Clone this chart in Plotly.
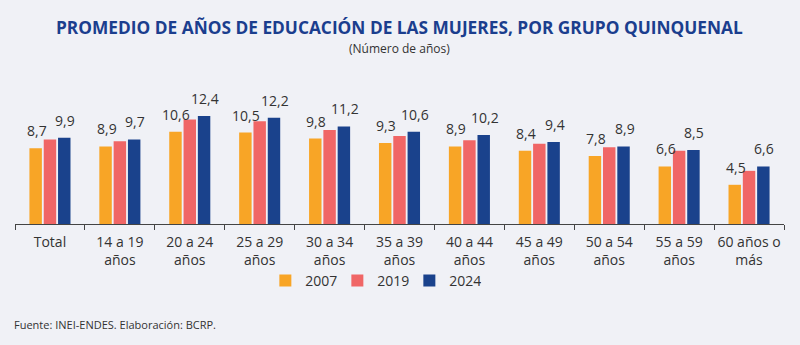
import plotly.graph_objects as go

# Average years of schooling of women, by five-year age group
categories = ["Total", "14 a 19<br>años", "20 a 24<br>años", "25 a 29<br>años",
              "30 a 34<br>años", "35 a 39<br>años", "40 a 44<br>años",
              "45 a 49<br>años", "50 a 54<br>años", "55 a 59<br>años",
              "60 años o<br>más"]
years = ["2007", "2019", "2024"]
v2007 = [8.7, 8.9, 10.6, 10.5, 9.8, 9.3, 8.9, 8.4, 7.8, 6.6, 4.5]
v2019 = [9.7, 9.5, 12.0, 11.8, 10.8, 10.1, 9.6, 9.2, 8.8, 8.4, 6.1]
v2024 = [9.9, 9.7, 12.4, 12.2, 11.2, 10.6, 10.2, 9.4, 8.9, 8.5, 6.6]
series = [v2007, v2019, v2024]
colors = ["#F8A526", "#F06666", "#1A428C"]
labelled = {"2007": -1, "2024": 1}  # series with value labels, and their slot offset

BG = "#F0F1F6"
FONT = "Open Sans"
TXT = "#333333"

fig = go.Figure()
for name, vals, col in zip(years, series, colors):
    fig.add_trace(go.Bar(
        name=name, x=categories, y=vals, marker=dict(color=col, line=dict(width=0)),
        hoverinfo="x+y",
    ))

# value labels above the 2007 and 2024 bars
plot_w = 800 - 15 - 16
slot = plot_w / len(categories) * (1 - 0.386) / 3
for name, vals in zip(years, series):
    if name not in labelled:
        continue
    for c, v in zip(categories, vals):
        fig.add_annotation(
            x=c, y=v, xref="x", yref="y", text=f"{v:.1f}".replace(".", ","),
            showarrow=False, xanchor="center", yanchor="bottom",
            xshift=labelled[name] * slot + 1, yshift=6,
            font=dict(family=FONT, size=14, color=TXT),
        )

fig.add_annotation(
    text="<b>PROMEDIO DE AÑOS DE EDUCACIÓN DE LAS MUJERES, POR GRUPO QUINQUENAL</b>",
    xref="paper", yref="paper", x=0.5, y=1, yshift=75, showarrow=False,
    xanchor="center", yanchor="middle", font=dict(family=FONT, size=17.3, color="#1B3E8E"),
)
fig.add_annotation(
    text="(Número de años)", xref="paper", yref="paper", x=0.5, y=1, yshift=54,
    showarrow=False, xanchor="center", yanchor="middle",
    font=dict(family=FONT, size=12, color=TXT),
)
fig.add_annotation(
    text="Fuente: INEI-ENDES. Elaboración: BCRP.", xref="paper", yref="paper",
    x=0, xshift=-3, y=0, yshift=-100, showarrow=False, xanchor="left", yanchor="middle",
    font=dict(family=FONT, size=11, color=TXT),
)

fig.update_layout(
    width=800, height=345, paper_bgcolor=BG, plot_bgcolor=BG,
    margin=dict(l=15, r=16, t=102, b=121, autoexpand=False),
    barmode="group", bargap=0.386, bargroupgap=0.13,
    showlegend=True,
    legend=dict(orientation="h", x=0.466, xanchor="center", y=-0.467, yanchor="middle",
                font=dict(family=FONT, size=14, color=TXT), bgcolor="rgba(0,0,0,0)",
                entrywidth=27, entrywidthmode="pixels", traceorder="normal"),
    xaxis=dict(type="category", showline=True, linecolor="#444444", linewidth=1,
               ticks="outside", tickson="boundaries", ticklen=5, tickcolor="#444444",
               tickfont=dict(family=FONT, size=14, color=TXT), ticklabelstandoff=5,
               tickangle=0, showgrid=False, zeroline=False),
    yaxis=dict(range=[0, 14], visible=False, showgrid=False, zeroline=False),
    font=dict(family=FONT),
)

fig.write_html("out.html")
